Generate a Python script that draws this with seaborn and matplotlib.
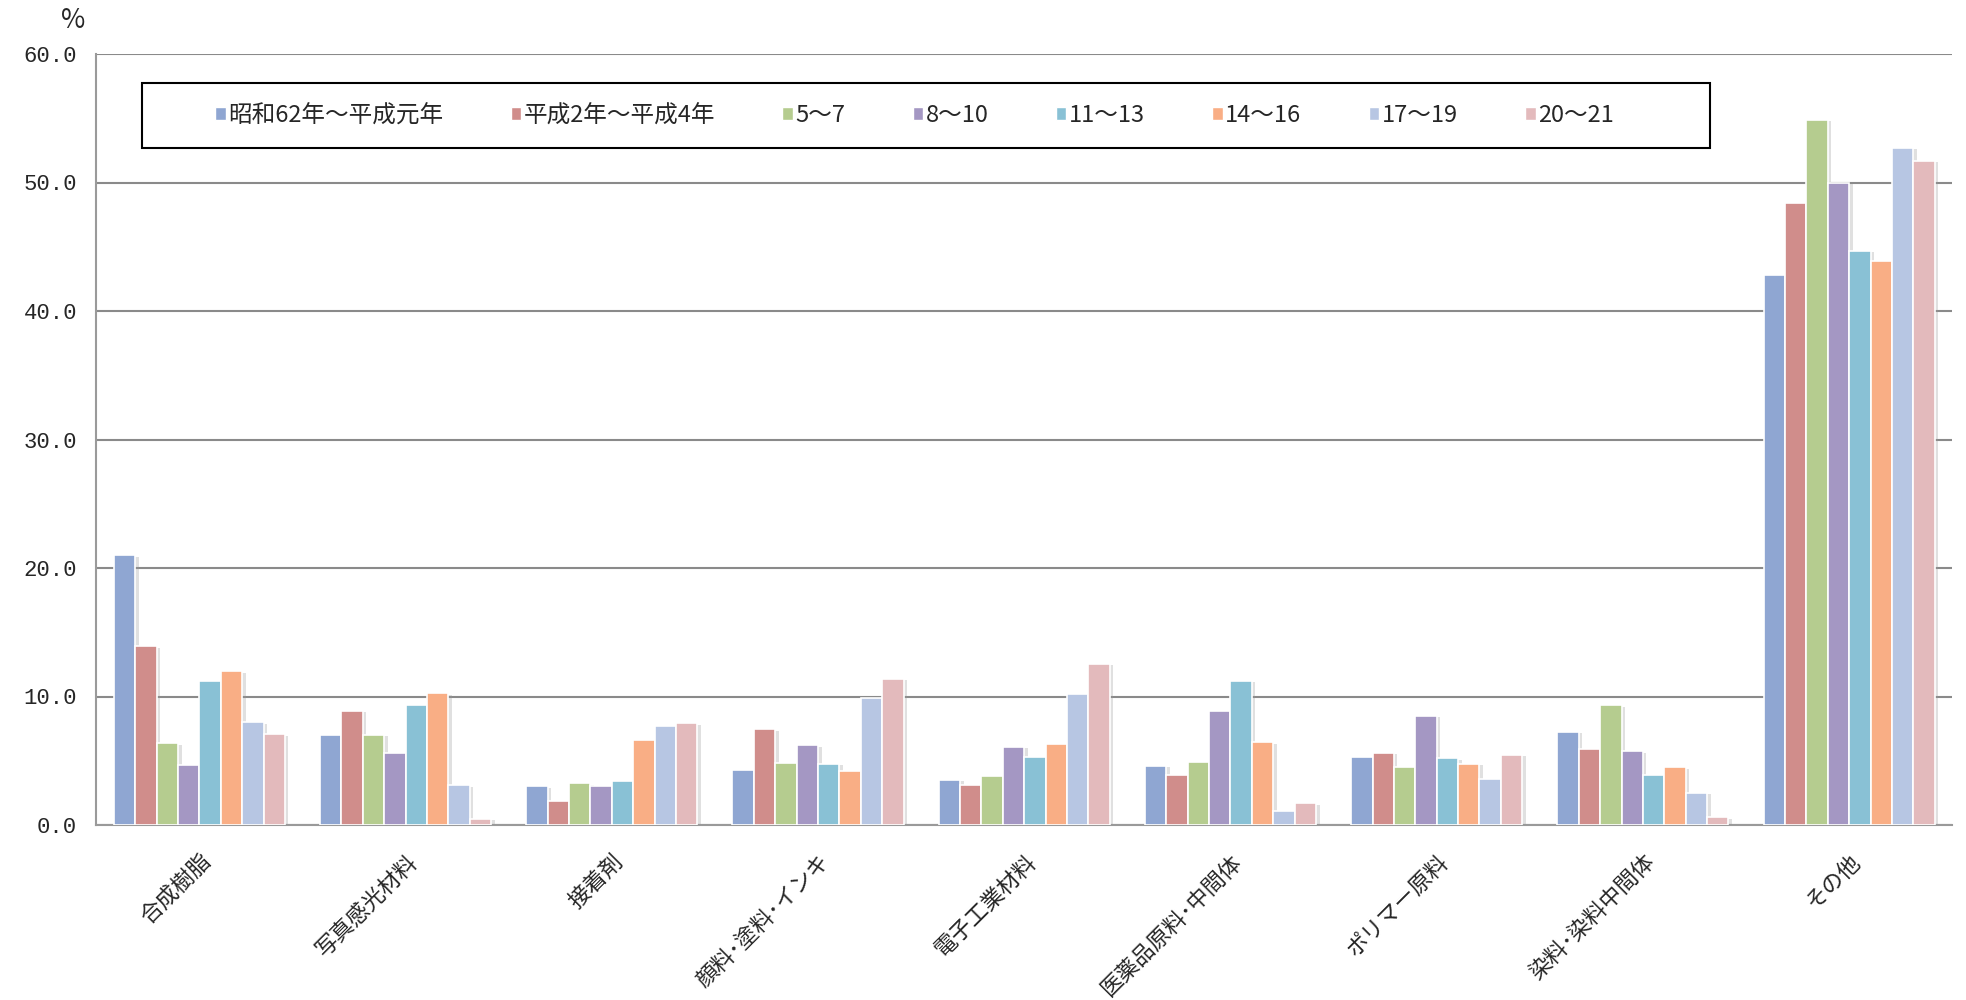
import matplotlib
matplotlib.use("Agg")
import matplotlib.pyplot as plt
import matplotlib.patheffects as pe
from matplotlib.patches import Rectangle, Patch
from matplotlib.ticker import FixedLocator, FormatStrFormatter
import seaborn as sns
import pandas as pd

categories = ["合成樹脂", "写真感光材料", "接着剤", "顔料･塗料･インキ", "電子工業材料",
              "医薬品原料･中間体", "ポリマー原料", "染料･染料中間体", "その他"]
periods = ["昭和62年〜平成元年", "平成2年〜平成4年", "5〜7", "8〜10", "11〜13",
           "14〜16", "17〜19", "20〜21"]

s1 = [21.0, 7.0, 3.0, 4.3, 3.5, 4.6, 5.3, 7.25, 42.8]
s2 = [13.9, 8.9, 1.9, 7.45, 3.1, 3.9, 5.6, 5.9, 48.4]
s3 = [6.35, 7.0, 3.25, 4.8, 3.8, 4.9, 4.5, 9.3, 54.9]
s4 = [4.65, 5.6, 3.0, 6.2, 6.1, 8.9, 8.5, 5.75, 50.0]
s5 = [11.2, 9.3, 3.4, 4.75, 5.3, 11.2, 5.2, 3.9, 44.7]
s6 = [11.95, 10.25, 6.6, 4.2, 6.3, 6.45, 4.75, 4.5, 43.9]
s7 = [8.0, 3.1, 7.7, 9.9, 10.2, 1.1, 3.6, 2.5, 52.7]
s8 = [7.05, 0.5, 7.9, 11.4, 12.55, 1.7, 5.45, 0.6, 51.7]
series = [s1, s2, s3, s4, s5, s6, s7, s8]

yticks = [0, 10, 20, 30, 40, 50, 60]

colors = ["#8FA6D2", "#D08D8B", "#B5CC8F", "#A497C3", "#89C1D5", "#F9AE85", "#B7C6E3", "#E3BABC"]

rows = []
for p, vals in zip(periods, series):
    for c, v in zip(categories, vals):
        rows.append({"category": c, "period": p, "value": v})
df = pd.DataFrame(rows)

sns.set_style("white")
plt.rcParams["font.family"] = ["Noto Sans CJK JP", "DejaVu Sans"]

fig = plt.figure(figsize=(19.66, 10), dpi=100)
ax = fig.add_axes([0.049, 0.175, 0.944, 0.771])

sns.barplot(data=df, x="category", y="value", hue="period", order=categories,
            hue_order=periods, palette=colors, width=0.83, errorbar=None,
            edgecolor="white", linewidth=1.2, saturation=1, ax=ax, zorder=3)

for patch in ax.patches:
    patch.set_path_effects([pe.SimplePatchShadow(offset=(2.5, -1), shadow_rgbFace="#999999", alpha=0.3),
                            pe.Normal()])

ax.set_ylim(0, 60)
ax.set_xlim(-0.5, len(categories) - 0.5)
ax.yaxis.set_major_locator(FixedLocator(yticks))
ax.yaxis.set_major_formatter(FormatStrFormatter("%.1f"))
ax.grid(axis="y", color="#8a8a8a", linewidth=1.5, zorder=0)
ax.set_axisbelow(True)

ax.set_xlabel("")
ax.set_ylabel("")
ax.tick_params(axis="y", length=0, pad=14)
for lab in ax.get_yticklabels():
    lab.set_fontfamily("Liberation Mono")
    lab.set_fontsize(16)
ax.set_xticks(range(len(categories)))
ax.set_xticklabels(categories, rotation=45, ha="right", rotation_mode="anchor", fontsize=16)
ax.tick_params(axis="x", which="major", length=0, pad=18)
ax.set_xticks([i - 0.5 for i in range(len(categories) + 1)], minor=True)
ax.tick_params(axis="x", which="minor", direction="in", length=6, width=1.2, color="#555555")

for side in ["top", "right"]:
    ax.spines[side].set_visible(False)
for side in ["left", "bottom"]:
    ax.spines[side].set_color("#9a9a9a")
    ax.spines[side].set_linewidth(1.5)

if ax.get_legend() is not None:
    ax.get_legend().remove()
handles = [Patch(facecolor=c, edgecolor="white") for c in colors]

# legend box
box_x0, box_y0, box_w, box_h = 0.0245, 0.878, 0.845, 0.084
ax.add_patch(Rectangle((box_x0, box_y0), box_w, box_h, transform=ax.transAxes,
                       facecolor="white", edgecolor="black", linewidth=1.5, zorder=5,
                       clip_on=False))
leg = ax.legend(handles, periods, ncol=8, loc="center left",
                bbox_to_anchor=(0.064, box_y0 + box_h / 2), frameon=False,
                fontsize=17, handlelength=0.45, handleheight=0.45, handletextpad=0.1,
                columnspacing=2.85, borderpad=0.0, borderaxespad=0.0)
leg.set_zorder(6)

fig.text(0.037, 0.979, "%", fontsize=19, ha="center", va="center")

fig.savefig("out.png", dpi=100)
